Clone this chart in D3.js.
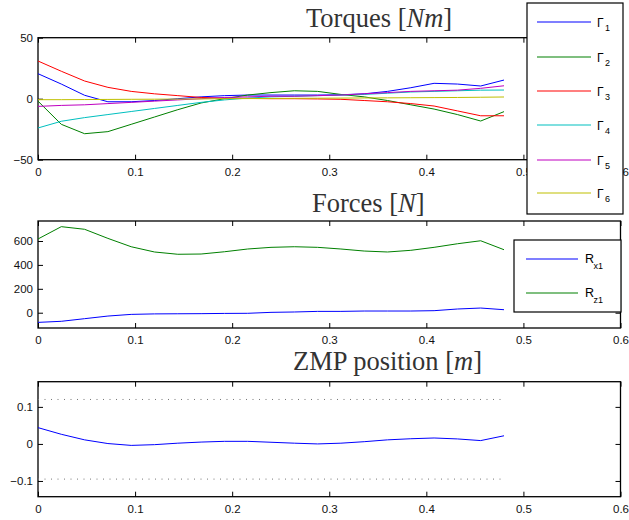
<!DOCTYPE html>
<html><head><meta charset="utf-8">
<script src="https://cdn.jsdelivr.net/npm/d3@7"></script>
<style>
body{margin:0;background:#fff;}
svg{display:block;}
.tick text{font-family:"Liberation Sans",Arial,sans-serif;font-size:11.5px;fill:#111;}
.title{font-family:"Liberation Serif","DejaVu Serif",serif;font-size:26.5px;fill:#333;}
</style>
</head><body>
<svg id="c" width="629" height="520"></svg>
<script>
// ---- data ----
const t = [0,0.024,0.048,0.072,0.096,0.12,0.144,0.168,0.192,0.216,0.24,0.264,0.288,0.312,0.336,0.36,0.384,0.408,0.432,0.456,0.48];
const gamma1 = [20.5,12,2.8,-2.5,-2.5,-1.5,0,1.5,2.5,3,3,3,3,3.2,4,6,9,12.6,12,10.4,15.3];
const gamma2 = [-2,-21,-28.7,-27,-21,-15,-9,-3.5,0,3,5,6.5,6,3.5,1.5,-1.5,-5,-8.5,-13,-18.3,-10.6];
const gamma3 = [30.9,22.5,14.5,9.3,6,4,2.5,1,0.5,0.2,0,0,-0.2,-0.5,-1.5,-2.5,-4,-6,-10,-14,-14];
const gamma4 = [-24,-18.5,-15.5,-13,-10.5,-8,-5.5,-3,-1,0.5,1.5,2,2.5,3,3.5,4.5,5.5,6,6.5,7,7.1];
const gamma5 = [-6.3,-5.5,-5,-4,-3,-2,-1,0,1,1.5,2,2,2.5,3,4,5,6,6.5,7,8.5,10.6];
const gamma6 = [-0.8,-0.8,-0.7,-0.6,-0.5,-0.4,-0.3,-0.2,0,0.1,0.2,0.3,0.4,0.5,0.6,0.7,0.8,0.9,1,1.2,1.4];
const torqueNames = ["1","2","3","4","5","6"];
const torqueColors = ["#0000ff","#008000","#ff0000","#00bfbf","#bf00bf","#bfbf00"];
const rx1 = [-81,-72,-50,-28,-14,-10,-9,-8,-6,-5,3,6,11,11,14,14,14,17,31,39,25];
const rz1 = [617,720,698,622,552,508,489,491,510,533,547,552,547,533,516,508,522,547,577,602,527];
const forceNames = ["x1","z1"];
const forceColors = ["#0000ff","#008000"];
const zmp = [0.044,0.026,0.011,0.001,-0.004,-0.002,0.002,0.005,0.007,0.007,0.0045,0.002,0.0,0.002,0.006,0.011,0.014,0.016,0.0135,0.009,0.022];
const zmpUpper = 0.12, zmpLower = -0.095;
const xTicks = [0,0.1,0.2,0.3,0.4,0.5,0.6];
const torqueTicks = [-50,0,50];
const forceTicks = [0,200,400,600];
const zmpTicks = [-0.1,0,0.1];

const svg = d3.select("#c");
const L = 38, R = 620.5;

function panel(top, bottom, yDomain, yTicks, yFmt, titleParts, titleX, titleY){
  const x = d3.scaleLinear().domain([0,0.6]).range([L,R]);
  const y = d3.scaleLinear().domain(yDomain).range([bottom,top]);
  const g = svg.append("g");
  const fmtX = d => d===0 ? "0" : d3.format(".1f")(d);
  g.append("g").attr("transform",`translate(0,${bottom})`)
    .call(d3.axisBottom(x).tickValues(xTicks).tickFormat(fmtX).tickSizeInner(-5).tickSizeOuter(0).tickPadding(8))
    .call(a=>a.select(".domain").remove());
  g.append("g").attr("transform",`translate(0,${top})`)
    .call(d3.axisTop(x).tickValues(xTicks).tickFormat("").tickSizeInner(-5).tickSizeOuter(0))
    .call(a=>a.select(".domain").remove());
  g.append("g").attr("transform",`translate(${L},0)`)
    .call(d3.axisLeft(y).tickValues(yTicks).tickFormat(yFmt).tickSizeInner(-5).tickSizeOuter(0).tickPadding(5))
    .call(a=>a.select(".domain").remove());
  g.append("g").attr("transform",`translate(${R},0)`)
    .call(d3.axisRight(y).tickValues(yTicks).tickFormat("").tickSizeInner(-5).tickSizeOuter(0))
    .call(a=>a.select(".domain").remove());
  g.selectAll(".tick line").attr("stroke","#000").attr("stroke-width",1);
  g.append("rect").attr("x",L).attr("y",top).attr("width",R-L).attr("height",bottom-top)
    .attr("fill","none").attr("stroke","#000").attr("stroke-width",1.3);
  const tt = svg.append("text").attr("class","title").attr("x",titleX).attr("y",titleY);
  titleParts.forEach(p=>tt.append("tspan").text(p[0]).attr("font-style",p[1]?"italic":"normal"));
  return {x,y,g};
}
const line = (x,y,vals) => d3.line().x((d,i)=>x(t[i])).y(d=>y(d))(vals);

// Torques
const p1 = panel(37.7,159.7,[-50,50],torqueTicks,d=>String(d).replace("-","\u2212"),
  [["Torques ",false],["[",false],["Nm",true],["]",false]],306,27);
[gamma1,gamma2,gamma3,gamma4,gamma5,gamma6].forEach((s,k)=>{
  p1.g.append("path").attr("d",line(p1.x,p1.y,s)).attr("fill","none")
    .attr("stroke",torqueColors[k]).attr("stroke-width",1);
});

// Forces
const p2 = panel(221,328,[-128,767.4],forceTicks,d=>String(d),
  [["Forces ",false],["[",false],["N",true],["]",false]],312,212);
[rx1,rz1].forEach((s,k)=>{
  p2.g.append("path").attr("d",line(p2.x,p2.y,s)).attr("fill","none")
    .attr("stroke",forceColors[k]).attr("stroke-width",1);
});

// ZMP
const p3 = panel(381.7,496.7,[-0.1425,0.168],zmpTicks,d=>d===0?"0":String(d).replace("-","\u2212"),
  [["ZMP position ",false],["[",false],["m",true],["]",false]],293,370);
[zmpUpper,zmpLower].forEach(v=>{
  p3.g.append("line").attr("x1",p3.x(t[0])).attr("x2",p3.x(t[t.length-1]))
    .attr("y1",p3.y(v)).attr("y2",p3.y(v)).attr("stroke","#777").attr("stroke-width",1)
    .attr("stroke-dasharray","1,5.5");
});
p3.g.append("path").attr("d",line(p3.x,p3.y,zmp)).attr("fill","none")
  .attr("stroke","#0000ff").attr("stroke-width",1);

// Legends
function legend(x0,y0,w,h,ys,lx1,lx2,tx,letter,subs,colors,fs,ss,bdy,sdx,sdy){
  const g = svg.append("g");
  g.append("rect").attr("x",x0).attr("y",y0).attr("width",w).attr("height",h)
    .attr("fill","#fff").attr("stroke","#000").attr("stroke-width",1.2);
  subs.forEach((s,i)=>{
    g.append("line").attr("x1",lx1).attr("x2",lx2).attr("y1",ys[i]).attr("y2",ys[i])
      .attr("stroke",colors[i]).attr("stroke-width",1.2);
    g.append("text").attr("x",tx).attr("y",ys[i]+bdy)
      .attr("font-family","Liberation Sans,Arial,sans-serif").attr("font-size",fs).text(letter);
    g.append("text").attr("x",tx+sdx).attr("y",ys[i]+bdy+sdy)
      .attr("font-family","Liberation Sans,Arial,sans-serif").attr("font-size",ss).text(s);
  });
}
legend(527,3,96,211,[22,57,91,125,160,193],537,591,597,"\u0393",torqueNames,torqueColors,12,9,4.5,8,4);
legend(514,240,107,72,[259,293],526,578,585,"R",forceNames,forceColors,12.5,9,3.5,8.5,6.5);
</script>
</body></html>
